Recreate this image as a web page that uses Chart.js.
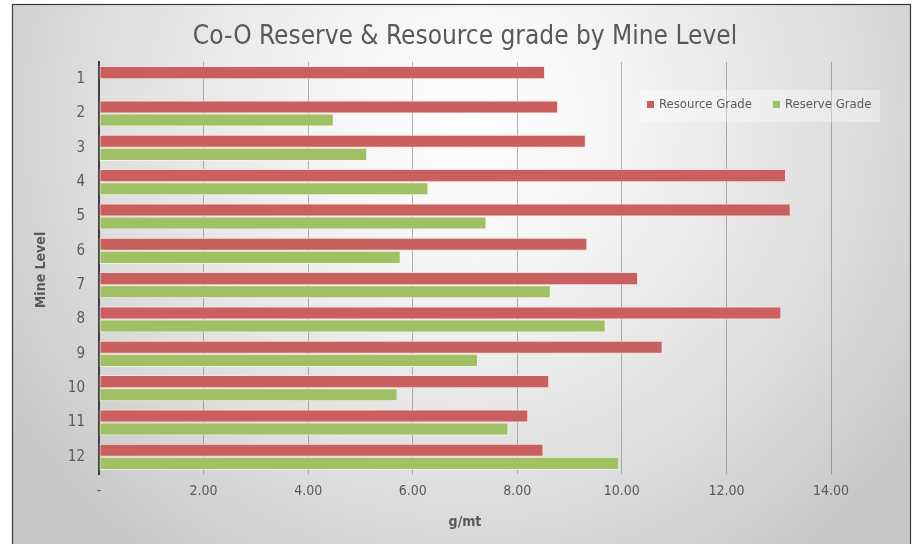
<!DOCTYPE html>
<html>
<head>
<meta charset="utf-8">
<script src="https://cdn.jsdelivr.net/npm/chart.js@4.4.1/dist/chart.umd.min.js"></script>
<style>
  html, body { margin: 0; padding: 0; background: #ffffff; }
  #wrap { width: 918px; height: 544px; position: relative; }
</style>
</head>
<body>
<div id="wrap"><canvas id="c" width="918" height="544"></canvas></div>
<script>
// ---- Data ----
const mineLevels = ['1', '2', '3', '4', '5', '6', '7', '8', '9', '10', '11', '12'];
const resourceGrade = [8.53, 8.78, 9.31, 13.14, 13.23, 9.34, 10.31, 13.05, 10.78, 8.61, 8.21, 8.50];
const reserveGrade = [null, 4.49, 5.13, 6.30, 7.41, 5.77, 8.64, 9.69, 7.25, 5.71, 7.83, 9.95];
const seriesNames = ['Resource Grade', 'Reserve Grade'];
const xTickValues = [0, 2, 4, 6, 8, 10, 12, 14];
const chartTitle = 'Co-O Reserve & Resource grade by Mine Level';
const xAxisTitle = 'g/mt';
const yAxisTitle = 'Mine Level';

const FONT = '"Liberation Sans Narrow", "DejaVu Sans Condensed", "Open Sans", sans-serif';
const TEXT = '#595959';
const RED = '#c95f5e';
const GREEN = '#a1bf63';

const decorPlugin = {
  id: 'decor',
  beforeDraw(chart) {
    const ctx = chart.ctx;
    const W = chart.width, H = chart.height;
    ctx.save();
    ctx.fillStyle = '#ffffff';
    ctx.fillRect(0, 0, W, H);
    const g = ctx.createRadialGradient(470, 120, 0, 470, 120, 560);
    g.addColorStop(0, '#ffffff');
    g.addColorStop(0.3, '#f3f3f3');
    g.addColorStop(0.7, '#dcdcdc');
    g.addColorStop(1, '#c6c6c6');
    ctx.fillStyle = g;
    ctx.fillRect(12, 4, 898, H);
    ctx.strokeStyle = '#3a3a3a';
    ctx.lineWidth = 1.2;
    ctx.strokeRect(12.5, 4.5, 898, H + 5);
    ctx.restore();
  },
  afterDraw(chart) {
    const ctx = chart.ctx;
    const area = chart.chartArea;
    ctx.save();
    // Title
    ctx.fillStyle = TEXT;
    ctx.textAlign = 'center';
    ctx.textBaseline = 'middle';
    ctx.font = '26px ' + FONT;
    ctx.fillText(chartTitle, 465, 37);
    // Axis titles
    ctx.font = 'bold 14px ' + FONT;
    ctx.fillText(xAxisTitle, (area.left + area.right) / 2, 522);
    ctx.save();
    ctx.translate(41, 270);
    ctx.rotate(-Math.PI / 2);
    ctx.fillText(yAxisTitle, 0, 0);
    ctx.restore();
    // Legend
    ctx.fillStyle = 'rgba(255,255,255,0.35)';
    ctx.fillRect(640, 90, 240, 32);
    ctx.font = '13px ' + FONT;
    ctx.textAlign = 'left';
    const items = [
      { x: 647, color: chart.data.datasets[0].backgroundColor, label: chart.data.datasets[0].label },
      { x: 773, color: chart.data.datasets[1].backgroundColor, label: chart.data.datasets[1].label }
    ];
    items.forEach(it => {
      ctx.fillStyle = it.color;
      ctx.fillRect(it.x, 101, 7, 7);
      ctx.fillStyle = TEXT;
      ctx.fillText(it.label, it.x + 12, 105);
    });
    ctx.restore();
  }
};

new Chart(document.getElementById('c'), {
  type: 'bar',
  data: {
    labels: mineLevels,
    datasets: [
      {
        label: seriesNames[0],
        data: resourceGrade,
        backgroundColor: RED,
        borderColor: 'rgba(250,225,220,0.9)',
        borderWidth: 1,
        borderSkipped: false
      },
      {
        label: seriesNames[1],
        data: reserveGrade,
        backgroundColor: GREEN,
        borderColor: 'rgba(240,248,225,0.9)',
        borderWidth: 1,
        borderSkipped: false
      }
    ]
  },
  options: {
    indexAxis: 'y',
    responsive: false,
    animation: false,
    layout: { padding: { top: 62, right: 87, left: 0, bottom: 0 } },
    plugins: {
      legend: { display: false },
      title: { display: false },
      tooltip: { enabled: false }
    },
    datasets: {
      bar: { categoryPercentage: 0.76, barPercentage: 1.0 }
    },
    scales: {
      x: {
        type: 'linear',
        min: xTickValues[0],
        max: xTickValues[xTickValues.length - 1],
        z: 1,
        afterBuildTicks(scale) { scale.ticks = xTickValues.map(v => ({ value: v })); },
        afterFit(scale) { scale.height = 70; },
        ticks: {
          color: TEXT,
          font: { family: FONT, size: 14 },
          padding: 9,
          callback: v => (v === 0 ? '-' : Number(v).toFixed(2))
        },
        grid: {
          drawTicks: false,
          color: ctx => (ctx.tick && ctx.tick.value === 0 ? 'rgba(0,0,0,0)' : 'rgba(90,90,90,0.45)'),
          lineWidth: 1
        },
        border: { display: false }
      },
      y: {
        type: 'category',
        afterFit(scale) { scale.width = 99; },
        ticks: {
          color: TEXT,
          font: { family: FONT, size: 15 },
          padding: 14
        },
        grid: { display: false, drawTicks: false },
        border: { display: true, color: '#404040', width: 2 }
      }
    }
  },
  plugins: [decorPlugin]
});
</script>
</body>
</html>
